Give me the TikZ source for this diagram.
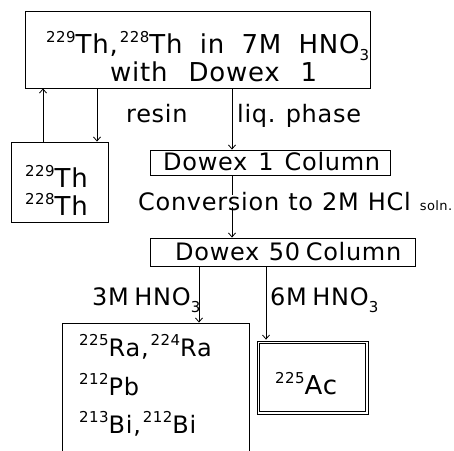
\documentclass[tikz,border=0pt]{standalone}
\usepackage{fontspec}
\setmainfont{DejaVu Sans}[LetterSpace=3]
\usetikzlibrary{arrows.meta,calc}
\newcommand\iso[2]{\raisebox{0.42em}{\fontsize{15}{15}\selectfont #1}#2}
\newcommand\sub[1]{\raisebox{-0.3em}{\fontsize{15}{15}\selectfont #1}}
\newcommand\fw[2]{\makebox[#1pt][s]{#2}}
\tikzset{
  box/.style={draw, line width=0.9pt, inner sep=0pt, rectangle},
  txt/.style={anchor=base west, inner sep=0pt, font=\fontsize{24}{24}\selectfont},
  bigtxt/.style={txt, font=\fontsize{26}{26}\selectfont},
  arr/.style={line width=0.8pt, -{Straight Barb[length=4pt,width=7pt]}},
  ln/.style={line width=0.8pt}
}
\begin{document}
\begin{tikzpicture}[x=1pt,y=-1pt]
\useasboundingbox (0,0) rectangle (454,450);
\fill[white] (0,0) rectangle (454,450);
% boxes
\node[box, minimum width=345pt, minimum height=77pt] (top) at (197.5,49.5) {};
\node[box, minimum width=97pt, minimum height=80pt] (th) at (59.5,182) {};
\node[box, minimum width=240pt, minimum height=25pt] (d1) at (270,162.5) {};
\node[box, minimum width=265pt, minimum height=28pt] (d50) at (282.5,252) {};
\node[box, minimum width=187pt, minimum height=140pt] (big) at (155.5,393) {};
\node[box, line width=0.8pt, minimum width=111pt, minimum height=73pt] (ac) at (312.5,377.5) {};
\draw[line width=0.8pt] ([shift={(3pt,-3pt)}]ac.north west) rectangle ([shift={(-3pt,3pt)}]ac.south east);
% texts
\node[bigtxt] (l1) at (46,53) {\fw{323}{\iso{229}{Th},\hspace{2pt}\iso{228}{Th} in 7M HNO\sub{3}}};
\node[bigtxt] (l2) at (110,81) {\fw{207}{with Dowex 1}};
\node[txt] (resin) at (126,122) {resin};
\node[txt] (liq) at (237,122) {\fw{123}{liq. phase}};
\node[bigtxt] (th1) at (25,187) {\iso{229}{Th}};
\node[bigtxt] (th2) at (25,215) {\iso{228}{Th}};
\node[txt] (d1t) at (163,170) {\fw{217}{Dowex 1 Column}};
\node[txt] (conv) at (138,210) {\fw{314}{Conversion to 2M HCl {\fontsize{13}{13}\selectfont soln.}}};
\node[txt] (d50t) at (175,260) {\fw{220}{Dowex\hspace{4pt} 50 Column}};
\node[txt] (m3) at (92,305) {\fw{103}{3M HNO\sub{3}}};
\node[txt] (m6) at (270,305) {\fw{105}{6M HNO\sub{3}}};
\node[txt] (ra) at (79,356) {\fw{148}{\iso{225}{Ra},\hspace{2pt}\iso{224}{Ra}}};
\node[txt] (pb) at (79,395) {\iso{212}{Pb}};
\node[txt] (bi) at (79,433) {\fw{145}{\iso{213}{Bi},\hspace{2pt}\iso{212}{Bi}}};
\node[bigtxt] (act) at (275,394) {\iso{225}{Ac}};
% connectors
\coordinate (xa) at (43,0);
\coordinate (xb) at (97,0);
\coordinate (xc) at (232,0);
\coordinate (xd) at (199,0);
\coordinate (xe) at (266,0);
\draw[arr] (th.north -| xa) -- (top.south -| xa);
\draw[arr] (top.south -| xb) -- (th.north -| xb);
\draw[arr] (top.south -| xc) -- (d1.north -| xc);
\draw[ln] (d1.south -| xc) -- ([yshift=-3pt]conv.north -| xc);
\draw[arr] ([yshift=4pt]conv.south -| xc) -- (d50.north -| xc);
\draw[arr] (d50.south -| xd) -- (big.north -| xd);
\draw[arr] (d50.south -| xe) -- ([yshift=1pt]ac.north -| xe);
\end{tikzpicture}
\end{document}
